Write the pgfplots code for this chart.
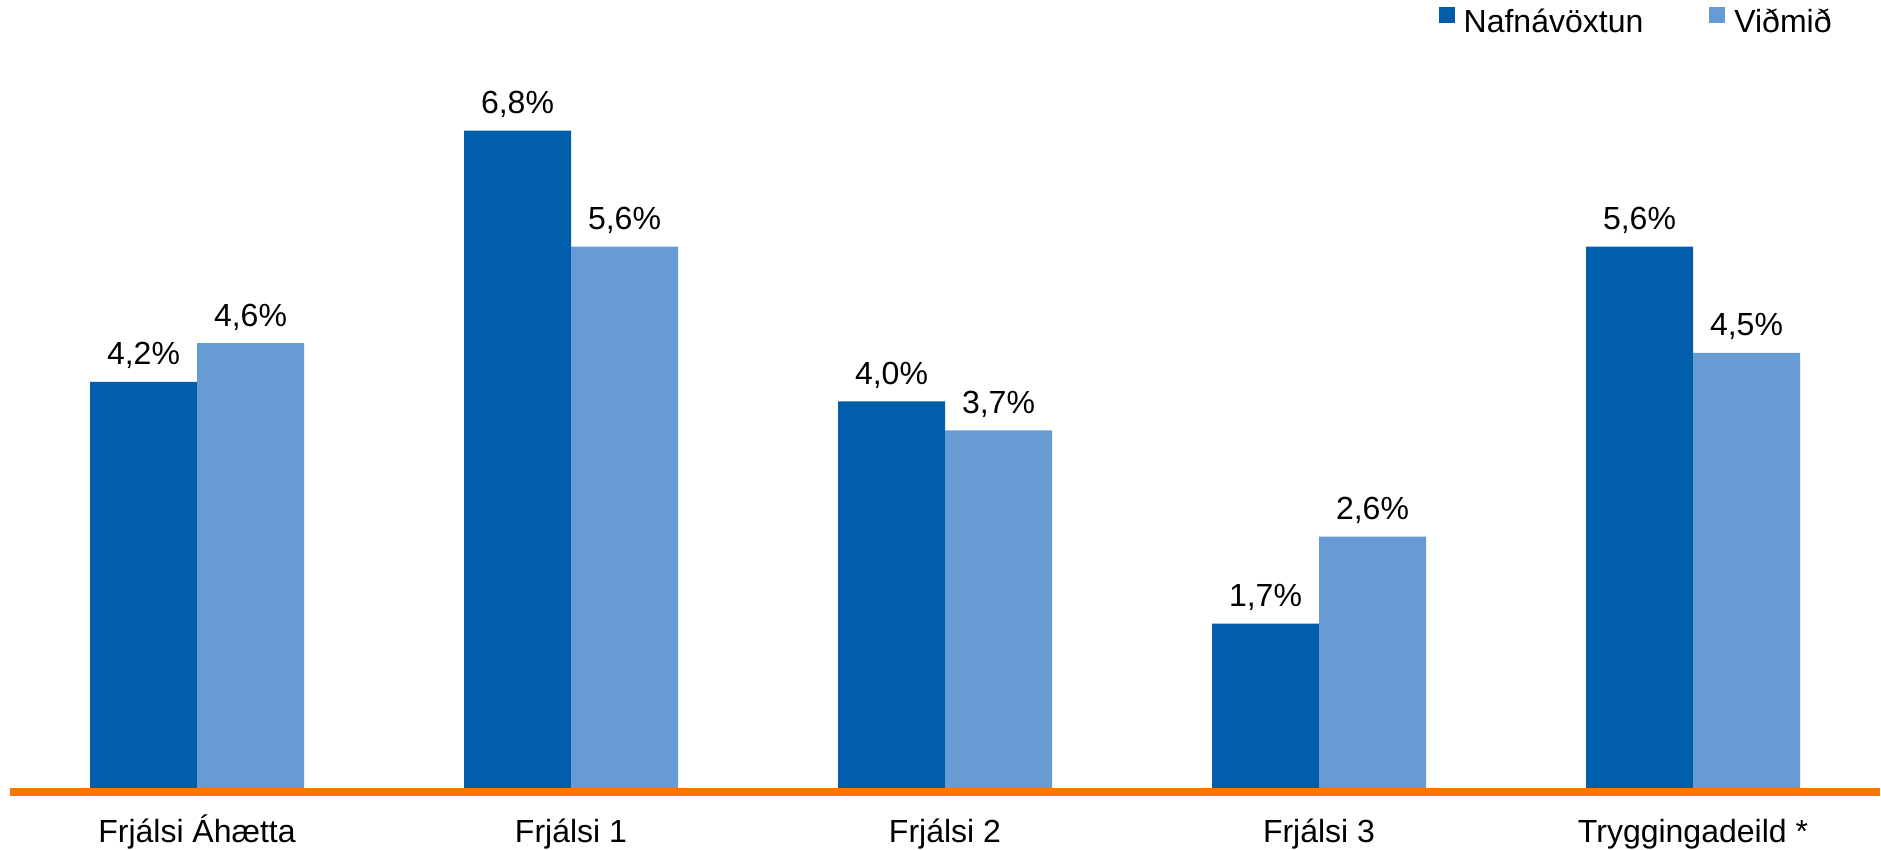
\documentclass[border=0pt]{standalone}
\usepackage{pgfplots}
\pgfplotsset{compat=1.18}
\usepackage{fontspec}
\setmainfont{Liberation Sans}
\definecolor{darkb}{RGB}{0,94,170}
\definecolor{lightb}{RGB}{102,155,211}
\definecolor{orangeline}{RGB}{250,120,0}
\begin{document}
\begin{tikzpicture}
\useasboundingbox (0,0) rectangle (940.5pt,425pt);
\begin{axis}[
  at={(5pt,29pt)}, anchor=south west,
  scale only axis,
  width=935pt, height=396pt,
  xmin=-0.5, xmax=4.5,
  ymin=-0.041, ymax=8.15,
  ybar=0pt, bar width=53.5pt,
  axis x line*=bottom,
  axis y line=none,
  x axis line style={-, draw=orangeline, line width=4pt},
  axis on top,
  xtick={0,1,2,3,4},
  xticklabels={Frjálsi Áhætta, Frjálsi 1, Frjálsi 2, Frjálsi 3, Tryggingadeild *},
  xtick style={draw=none},
  xticklabel style={anchor=base, yshift=-21pt, font=\fontsize{16}{19}\selectfont, inner sep=0pt},
  ytick=\empty,
  /pgf/number format/assume math mode=true,
  nodes near coords={\pgfmathprintnumber[fixed, fixed zerofill, precision=1, use comma]{\pgfplotspointmeta}\%},
  nodes near coords style={anchor=base, yshift=8.5pt, font=\fontsize{16}{19}\selectfont, text=black, inner sep=0pt},
  legend columns=2,
  legend style={draw=none, fill=none, at={(rel axis cs:1,1)}, anchor=north east, xshift=-22pt, yshift=-3.5pt,
    font=\fontsize{16}{19}\selectfont, inner sep=0pt,
    nodes={inner sep=0pt, inner xsep=2pt},
    /tikz/every even column/.append style={column sep=31pt}},
  legend image code/.code={\path[fill=none,draw=none] (0pt,-0.5pt) rectangle (10.5pt,7.5pt);\fill[#1] (0pt,-0.5pt) rectangle (8pt,7.5pt);},
]
\addplot[fill=darkb, draw=none] coordinates {(0,4.2) (1,6.8) (2,4.0) (3,1.7) (4,5.6)};
\addplot[fill=lightb, draw=none] coordinates {(0,4.6) (1,5.6) (2,3.7) (3,2.6) (4,4.5)};
\legend{Nafnávöxtun, Viðmið}
\end{axis}
\end{tikzpicture}
\end{document}
